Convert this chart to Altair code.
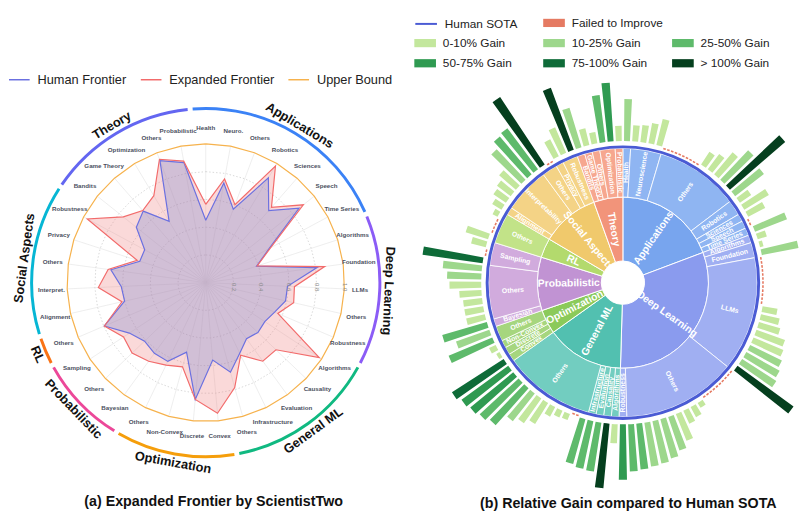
import math
import altair as alt
import pandas as pd

N_ = None

# ======================= panel (a) data =======================
group_names = ["Applications", "Deep Learning", "General ML", "Optimization",
               "Probabilistic", "RL", "Social Aspects", "Theory"]
radar_subs = [
    ["Health", "Neuro.", "Others", "Robotics", "Sciences", "Speech", "Time Series"],
    ["Algorithms", "Foundation", "LLMs", "Others", "Robustness"],
    ["Algorithms", "Causality", "Evaluation", "Infrastructure", "Others"],
    ["Convex", "Discrete", "Non-Convex", "Others"],
    ["Bayesian", "Others", "Sampling"],
    ["Others"],
    ["Alignment", "Interpret.", "Others", "Privacy", "Robustness"],
    ["Bandits", "Game Theory", "Optimization", "Others", "Probabilistic"],
]
human_frontier = [0.45, 0.73, 0.565, 0.88, 0.69, 0.86, 0.52,
                  0.385, 0.81, 0.59, 0.59, 0.54,
                  0.51, 0.52, 0.50, 0.565, 0.67,
                  0.56, 0.845, 0.52, 0.63,
                  0.63, 0.61, 0.66,
                  0.795,
                  0.60, 0.61, 0.69, 0.50, 0.50,
                  0.64, 0.685, 0.515, 0.94, 0.88]
expanded_frontier = [0.565, 0.76, 0.60, 0.98, 0.72, 0.90, 0.53,
                     0.39, 0.865, 0.64, 0.65, 0.565,
                     0.98, 0.70, 0.70, 0.58, 0.785,
                     0.945, 0.845, 0.63, 0.66,
                     0.70, 0.735, 0.71,
                     0.795,
                     0.62, 0.775, 0.71, 0.52, 0.97,
                     0.76, 0.69, 0.73, 0.95, 0.89]
upper_bound = [1.0] * 35
series_names = ["Human Frontier", "Expanded Frontier", "Upper Bound"]
series_colors = ["#6b70e0", "#f26b6b", "#f6b24d"]
ring_colors_a = ["#3b82f6", "#8b5cf6", "#10b981", "#f59e0b",
                 "#ec4899", "#f97316", "#06b6d4", "#6366f1"]
grid_levels = [0.2, 0.4, 0.6, 0.8]
tick_levels = [0.2, 0.4, 0.6, 0.8, 1.0]

# ======================= panel (b) data =======================
sb_groups = group_names
sb_sub_names = [
    ["Health", "Neuroscience", "Others", "Robotics", "Sciences", "Speech", "Time Series"],
    ["Algorithms", "Foundation", "LLMs", "Others", "Robustness"],
    ["Algorithms", "Causality", "Evaluation", "Infrastructure", "Others"],
    ["Convex", "Discrete", "Non-Convex", "Others"],
    ["Bayesian", "Others", "Sampling"],
    ["Others"],
    ["Alignment", "Interpretability", "Others", "Privacy", "Robustness"],
    ["Bandits", "Game Theory", "Others", "Optimization", "Probabilistic"],
]
# relative gain (%) of every task, None = failed to improve
sb_gains = [
    [[20], [2.2, 2.5, 3.5, 6], [N_, N_, N_, N_, N_, 2, 3, 7, 18, 200, 13],
     [1.7, 7], [3], [N_], [11]],
    [[1], [0.3, 14], [N_, N_, N_, N_, N_, N_, 2, 3, 4, 8, 9.5, 12, 15, 18, 150],
     [N_, N_, N_, N_, N_, 0.5, 1.3, 1.8, 7, 12, 18, 22, 24, 27, 30], [55]],
    [[3], [110], [35], [33], [28, N_, 0.6, 0.7, 1.2, 5, 8, 12, 35, 45, 55, 65]],
    [[85], [0.3], [0.7], [30, 12]],
    [[28], [3, 3, 3, 4, 9, 11, 16], [80, N_, 2]],
    [[4.5, N_, N_, 0.5]],
    [[1.2], [2, 2.5, 4, 20, 35, 40], [350, N_], [3], [6.5, 120]],
    [[19], [2.5], [1.3], [30, 70], [2]],
]
sb_inner = ["#78a5ee", "#8a9bee", "#52c0b0", "#8bca5a",
            "#c193d3", "#b3da6d", "#f0c96c", "#f2947a"]
sb_outer = ["#8fb5f2", "#a0aff2", "#72cdc0", "#a6d67e",
            "#d1abdd", "#c2e388", "#f4d386", "#f6a78f"]
gain_classes = ["_1", "Failed to Improve", "_2", "0-10% Gain", "10-25% Gain",
                "25-50% Gain", "50-75% Gain", "75-100% Gain", "> 100% Gain"]
gain_colors = ["rgba(0,0,0,0)", "#e57a62", "rgba(0,0,0,0)", "#c3e79d", "#9dd78c",
               "#5eba6b", "#2f9a51", "#0e6b38", "#053f1e"]

# ======================= layout constants =======================
FONT = "Liberation Sans"
WL, HL = 386, 478
CXL, CYL = 190, 271
R = 141.0
SP = 8
WR = 397
CXR, CYR = 220, 271

# ======================= build tables (a) =======================
sub_rows, ring_rows = [], []
k = 0
for gi, (g, subs) in enumerate(zip(group_names, radar_subs)):
    first = k
    for s in subs:
        sub_rows.append({"idx": k, "sub": s})
        k += 1
    ring_rows.append({"group": g, "first": first, "last": k - 1, "col": ring_colors_a[gi]})
K = k
sub_df = pd.DataFrame(sub_rows)
ring_df = pd.DataFrame(ring_rows)

poly_rows = []
for name, vals in zip(series_names, [human_frontier, expanded_frontier, upper_bound]):
    for j in range(K + 1):
        poly_rows.append({"series": name, "idx": j, "v": vals[j % K]})
poly_df = pd.DataFrame(poly_rows)

grid_rows = []
for lvl in grid_levels:
    for j in range(K + 1):
        grid_rows.append({"lvl": lvl, "idx": j, "v": lvl})
grid_df = pd.DataFrame(grid_rows)

xs_a = alt.Scale(domain=[-CXL / R, (WL - CXL) / R], nice=False, zero=False)
ys_a = alt.Scale(domain=[-(HL - CYL) / R, CYL / R], nice=False, zero=False)
theta_a = alt.Scale(domain=[0, K], range=[0, 2 * math.pi])

XA = alt.X("px:Q", scale=xs_a, axis=None)
YA = alt.Y("py:Q", scale=ys_a, axis=None)
ang_expr = f"datum.idx * 2 * PI / {K}"


def polar(ch):
    return ch.transform_calculate(ang=ang_expr).transform_calculate(
        px="datum.v * sin(datum.ang)", py="datum.v * cos(datum.ang)")


poly_base = polar(alt.Chart(poly_df))

fill_red = poly_base.transform_filter("datum.series == 'Expanded Frontier'").mark_line(
    fill="#f08080", fillOpacity=0.3, strokeOpacity=0).encode(x=XA, y=YA, order="idx:Q")
fill_blue = poly_base.transform_filter("datum.series == 'Human Frontier'").mark_line(
    fill="#7c88cf", fillOpacity=0.32, strokeOpacity=0).encode(x=XA, y=YA, order="idx:Q")

legA = alt.Legend(title=None, orient="none", legendX=-11, legendY=53, direction="horizontal",
                  symbolType="stroke", symbolSize=441, symbolStrokeWidth=1.5,
                  labelFontSize=13, labelOffset=7, columnPadding=11, labelColor="#222",
                  labelFont=FONT)
lines = poly_base.mark_line(strokeWidth=1.2).encode(
    x=XA, y=YA, order="idx:Q",
    stroke=alt.Stroke("series:N", scale=alt.Scale(domain=series_names, range=series_colors),
                      legend=legA))

grid = polar(alt.Chart(grid_df)).mark_line(
    stroke="#cfcfcf", strokeDash=[1.5, 2], strokeWidth=0.8).encode(
    x=XA, y=YA, order="idx:Q", detail="lvl:N")

spokes = alt.Chart(sub_df).transform_calculate(ang=ang_expr).transform_calculate(
    cx="0", cy="0", sx="sin(datum.ang)", sy="cos(datum.ang)").mark_rule(
    color="#e6e6e6", strokeWidth=0.7).encode(
    x=alt.X("cx:Q", scale=xs_a, axis=None), y=alt.Y("cy:Q", scale=ys_a, axis=None),
    x2="sx:Q", y2="sy:Q")

ticks = alt.Chart(pd.DataFrame({"lvl": tick_levels})).transform_calculate(
    lab="format(datum.lvl, '.1f')", px="datum.lvl", py="0").mark_text(
    angle=90, fontSize=6, color="#8a8a8a", dx=4.5, align="center", baseline="middle").encode(
    x=XA, y=YA, text="lab:N")

sublab = alt.Chart(sub_df).mark_text(fontSize=6.3, fontWeight="bold", color="#4b5060").encode(
    x=alt.value(CXL), y=alt.value(CYL),
    theta=alt.Theta("idx:Q", scale=theta_a, stack=False),
    radius=alt.value(157), text="sub:N")

ring = alt.Chart(ring_df).transform_calculate(
    t0="datum.first - 0.5 + 0.08", t1="datum.last + 0.5 - 0.08").mark_arc().encode(
    x=alt.value(CXL), y=alt.value(CYL),
    theta=alt.Theta("t0:Q", scale=theta_a, stack=False), theta2="t1:Q",
    radius=alt.value(178.5), radius2=alt.value(175.5),
    color=alt.Color("col:N", scale=None))

grp_lab = alt.Chart(ring_df).transform_calculate(
    mid="(datum.first + datum.last) / 2").transform_calculate(
    deg=f"datum.mid * 360 / {K}").transform_calculate(
    rot="(datum.deg > 95 && datum.deg < 265) ? datum.deg - 180 : datum.deg").mark_text(
    fontSize=13, fontWeight="bold", color="#111111", baseline="middle").encode(
    x=alt.value(CXL), y=alt.value(CYL),
    theta=alt.Theta("mid:Q", scale=theta_a, stack=False),
    radius=alt.value(186), text="group:N", angle=alt.Angle("rot:Q", scale=None))

left = alt.layer(spokes, grid, fill_red, fill_blue, lines, ticks, sublab, ring, grp_lab).properties(
    width=WL, height=HL,
    title=alt.TitleParams("(a) Expanded Frontier by ScientistTwo", orient="bottom",
                          anchor="middle", fontSize=14.5, fontWeight="bold", offset=9,
                          dx=5, color="#111111", font=FONT))

# ======================= build tables (b) =======================
cat_rows, sub_rows_b, task_rows = [], [], []
k = 0
for gi, g in enumerate(sb_groups):
    g_first = k
    for si, sname in enumerate(sb_sub_names[gi]):
        s_first = k
        for gain in sb_gains[gi][si]:
            task_rows.append({"slot": k, "gain": gain})
            k += 1
        sub_rows_b.append({"sub": sname, "first": s_first, "last": k, "col": sb_outer[gi]})
    cat_rows.append({"group": g, "first": g_first, "last": k, "col": sb_inner[gi]})
NT = k
cat_df = pd.DataFrame(cat_rows)
subb_df = pd.DataFrame(sub_rows_b)
task_df = pd.DataFrame(task_rows)

theta_b = alt.Scale(domain=[0, NT], range=[0, 2 * math.pi])
gain_scale = alt.Scale(domain=gain_classes, range=gain_colors)
XB, YB = alt.value(CXR), alt.value(CYR)

RECT = "M-1,-0.38L1,-0.38L1,0.38L-1,0.38Z"
legB = alt.Legend(title=None, orient="none", legendX=8, legendY=-4, columns=3,
                  direction="horizontal", gridAlign="all", columnPadding=9, rowPadding=3.5,
                  symbolType=RECT, symbolSize=484,
                  symbolStrokeWidth=0, labelFontSize=12, labelOffset=7, labelColor="#222",
                  labelFont=FONT,
                  labelExpr="indexof(datum.label, '_') == 0 ? '' : datum.label")
legS = alt.Legend(title=None, orient="none", legendX=8, legendY=-4,
                  symbolType="stroke", symbolSize=484, symbolStrokeWidth=2,
                  labelFontSize=12, labelOffset=7, labelColor="#222", labelFont=FONT)

cat_arcs = alt.Chart(cat_df).mark_arc(stroke="white", strokeWidth=1).encode(
    x=XB, y=YB, theta=alt.Theta("first:Q", scale=theta_b, stack=False), theta2="last:Q",
    radius=alt.value(87), radius2=alt.value(22), color=alt.Color("col:N", scale=None))
sub_arcs = alt.Chart(subb_df).mark_arc(stroke="white", strokeWidth=0.8).encode(
    x=XB, y=YB, theta=alt.Theta("first:Q", scale=theta_b, stack=False), theta2="last:Q",
    radius=alt.value(136.5), radius2=alt.value(87), color=alt.Color("col:N", scale=None))

sota = alt.Chart(pd.DataFrame({"lab": ["Human SOTA"]})).mark_arc(
    theta=0, theta2=2 * math.pi, fillOpacity=0, strokeWidth=3).encode(
    x=XB, y=YB, radius=alt.value(138), radius2=alt.value(138),
    stroke=alt.Stroke("lab:N", scale=alt.Scale(domain=["Human SOTA"], range=["#4a5bd4"]),
                      legend=legS))

fail = alt.Chart(task_df).transform_filter("datum.gain == null").transform_calculate(
    d="[0, 1]").transform_flatten(["d"]).transform_calculate(
    t0="datum.slot + datum.d * 0.5 + 0.08", t1="datum.slot + datum.d * 0.5 + 0.40",
    cls="'Failed to Improve'").mark_arc(strokeWidth=0).encode(
    x=XB, y=YB, theta=alt.Theta("t0:Q", scale=theta_b, stack=False), theta2="t1:Q",
    radius=alt.value(143.2), radius2=alt.value(141.6),
    fill=alt.Fill("cls:N", scale=gain_scale, legend=legB))

bars = alt.Chart(task_df).transform_filter("datum.gain != null").transform_calculate(
    t0="datum.slot + 0.14", t1="datum.slot + 0.86",
    cls=("datum.gain < 10 ? '0-10% Gain' : datum.gain < 25 ? '10-25% Gain' : "
         "datum.gain < 50 ? '25-50% Gain' : datum.gain < 75 ? '50-75% Gain' : "
         "datum.gain <= 100 ? '75-100% Gain' : '> 100% Gain'")).mark_arc(strokeWidth=0).encode(
    x=XB, y=YB, theta=alt.Theta("t0:Q", scale=theta_b, stack=False), theta2="t1:Q",
    radius=alt.Radius("gain:Q", scale=alt.Scale(type="symlog", domain=[0, 400],
                                                range=[144, 228])),
    radius2=alt.value(144),
    fill=alt.Fill("cls:N", scale=gain_scale, legend=legB))

rad_text = ("datum.deg < 180 ? (datum.deg + 270) % 360 : (datum.deg + 90) % 360")
sub_lab_b = alt.Chart(subb_df).transform_calculate(
    mid="(datum.first + datum.last) / 2").transform_calculate(
    deg=f"datum.mid * 360 / {NT}").transform_calculate(rot=rad_text).mark_text(
    fontSize=7, fontWeight="bold", color="white", baseline="middle").encode(
    x=XB, y=YB, theta=alt.Theta("mid:Q", scale=theta_b, stack=False),
    radius=alt.value(112), text="sub:N", angle=alt.Angle("rot:Q", scale=None))
cat_lab_b = alt.Chart(cat_df).transform_calculate(
    mid="(datum.first + datum.last) / 2").transform_calculate(
    deg=f"datum.mid * 360 / {NT}").transform_calculate(rot=rad_text).mark_text(
    fontSize=10.5, fontWeight="bold", color="white", baseline="middle").encode(
    x=XB, y=YB, theta=alt.Theta("mid:Q", scale=theta_b, stack=False),
    radius=alt.value(55), text="group:N", angle=alt.Angle("rot:Q", scale=None))

right = alt.layer(cat_arcs, sub_arcs, sota, fail, bars, sub_lab_b, cat_lab_b).properties(
    width=WR, height=HL,
    title=alt.TitleParams("(b) Relative Gain compared to Human SOTA", orient="bottom",
                          anchor="middle", fontSize=14.5, fontWeight="bold", offset=9,
                          dx=27, color="#111111", font=FONT))

chart = alt.hconcat(left, right, spacing=SP, bounds="flush").resolve_scale(
    x="independent", y="independent", theta="independent", radius="independent",
    stroke="independent", fill="independent", color="independent").resolve_legend(
    stroke="independent", fill="independent").properties(padding=0).configure(
    font=FONT).configure_view(strokeWidth=0)

chart.save("out.html", embed_options={"renderer": "svg", "actions": False})
